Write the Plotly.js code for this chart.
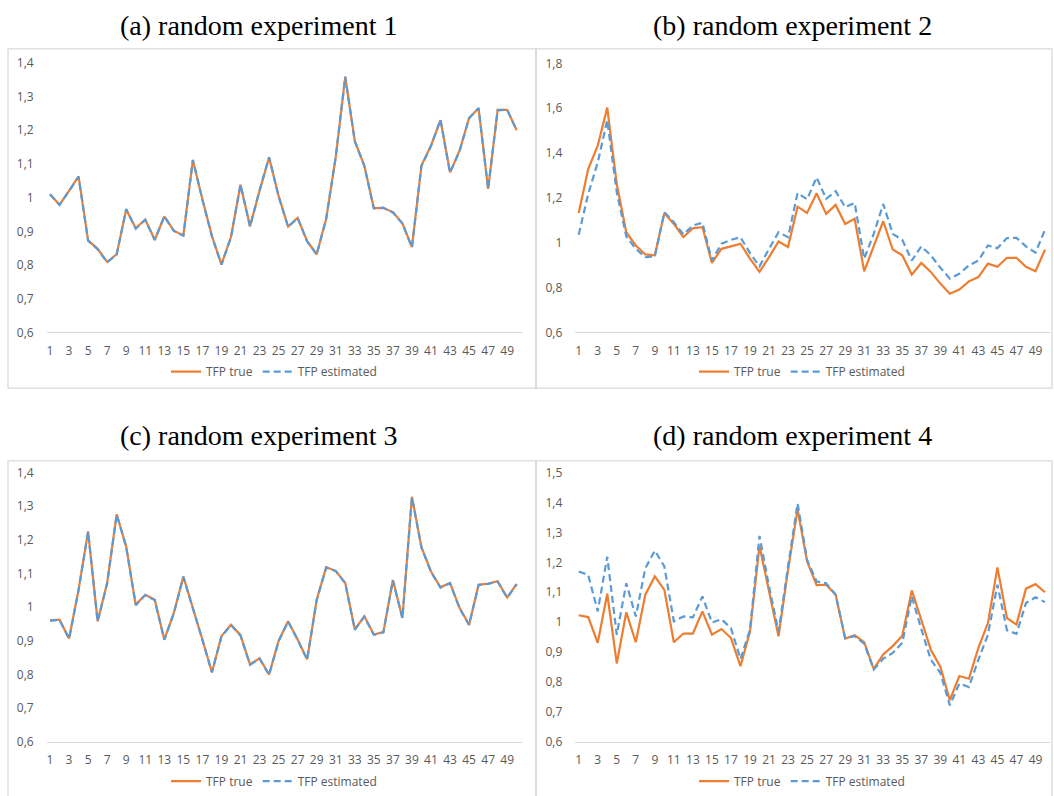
<!DOCTYPE html>
<html>
<head>
<meta charset="utf-8">
<script src="https://cdn.plot.ly/plotly-3.0.1.min.js"></script>
<style>
  html, body { margin: 0; padding: 0; background: #ffffff; }
  #chart { width: 1054px; height: 796px; }
</style>
</head>
<body>
<div id="chart"></div>
<script>
// ---------------- DATA ----------------
const periods = Array.from({length: 50}, (_, i) => i + 1);
const xTickVals = [1,3,5,7,9,11,13,15,17,19,21,23,25,27,29,31,33,35,37,39,41,43,45,47,49];
const seriesNames = ["TFP true", "TFP estimated"];
const panelTitles = ["(a) random experiment 1", "(b) random experiment 2", "(c) random experiment 3", "(d) random experiment 4"];

const expA_true = [1.01,0.979,1.02,1.063,0.873,0.848,0.809,0.832,0.965,0.909,
                   0.935,0.875,0.944,0.902,0.888,1.111,0.995,0.886,0.802,0.883,
                   1.038,0.915,1.02,1.119,1.005,0.914,0.94,0.871,0.832,0.937,
                   1.12,1.358,1.168,1.095,0.969,0.969,0.957,0.924,0.853,1.095,
                   1.154,1.23,1.075,1.139,1.236,1.265,1.026,1.26,1.26,1.2];
const expA_est  = [1.01,0.978,1.02,1.062,0.872,0.847,0.808,0.831,0.966,0.908,
                   0.934,0.874,0.945,0.901,0.887,1.112,0.994,0.885,0.801,0.882,
                   1.039,0.914,1.021,1.12,1.004,0.913,0.939,0.87,0.831,0.938,
                   1.121,1.359,1.167,1.094,0.968,0.97,0.956,0.923,0.852,1.094,
                   1.153,1.231,1.074,1.138,1.235,1.266,1.025,1.259,1.261,1.199];

const expB_true = [1.133,1.329,1.433,1.603,1.262,1.047,0.988,0.948,0.944,1.133,
                   1.084,1.025,1.065,1.07,0.91,0.973,0.984,0.996,0.929,0.87,
                   0.936,1.006,0.981,1.161,1.133,1.221,1.129,1.169,1.084,1.107,
                   0.873,0.984,1.096,0.97,0.944,0.858,0.91,0.87,0.818,0.773,
                   0.791,0.828,0.847,0.907,0.893,0.933,0.933,0.893,0.873,0.969];
const expB_est  = [1.036,1.218,1.358,1.547,1.225,1.028,0.973,0.936,0.939,1.136,
                   1.092,1.037,1.077,1.089,0.921,0.996,1.013,1.025,0.954,0.895,
                   0.973,1.047,1.025,1.222,1.194,1.292,1.196,1.23,1.159,1.178,
                   0.929,1.04,1.173,1.04,1.013,0.921,0.984,0.944,0.889,0.84,
                   0.862,0.899,0.921,0.988,0.976,1.021,1.022,0.984,0.956,1.058];

const expC_true = [0.961,0.963,0.907,1.052,1.225,0.958,1.072,1.276,1.18,1.007,
                   1.037,1.022,0.904,0.983,1.091,1.0,0.904,0.807,0.914,0.948,
                   0.917,0.83,0.848,0.8,0.9,0.958,0.904,0.845,1.022,1.119,
                   1.108,1.072,0.934,0.973,0.919,0.926,1.081,0.968,1.328,1.178,
                   1.106,1.059,1.072,0.998,0.948,1.067,1.07,1.077,1.029,1.069];
const expC_est  = [0.96,0.962,0.906,1.051,1.224,0.957,1.071,1.275,1.179,1.006,
                   1.036,1.021,0.903,0.982,1.09,0.999,0.903,0.806,0.913,0.947,
                   0.916,0.829,0.847,0.799,0.899,0.957,0.903,0.844,1.021,1.118,
                   1.107,1.071,0.933,0.972,0.918,0.925,1.08,0.967,1.327,1.177,
                   1.105,1.058,1.071,0.997,0.947,1.066,1.069,1.076,1.028,1.068];

const expD_true = [1.023,1.017,0.931,1.095,0.862,1.033,0.933,1.092,1.153,1.108,
                   0.933,0.962,0.962,1.036,0.958,0.977,0.947,0.853,0.969,1.255,
                   1.103,0.953,1.175,1.377,1.203,1.124,1.125,1.092,0.945,0.956,
                   0.933,0.844,0.892,0.92,0.955,1.106,1.008,0.908,0.851,0.74,
                   0.82,0.811,0.914,0.997,1.183,1.014,0.992,1.112,1.127,1.1];
const expD_est  = [1.169,1.158,1.036,1.219,0.958,1.13,1.019,1.18,1.239,1.186,
                   1.003,1.019,1.016,1.086,0.999,1.01,0.98,0.877,0.975,1.288,
                   1.119,0.969,1.186,1.397,1.208,1.136,1.13,1.092,0.947,0.953,
                   0.928,0.842,0.878,0.897,0.931,1.086,0.977,0.875,0.831,0.722,
                   0.795,0.783,0.875,0.958,1.125,0.973,0.961,1.064,1.083,1.067];

// ---------------- LAYOUT HELPERS ----------------
const W = 1054, H = 796;
const px = v => v / W;
const py = v => 1 - v / H;

const colTrue = "#ED7D31";
const colEst = "#5B9BD5";
const tickFont = {family: "Open Sans, Liberation Sans, sans-serif", size: 12, color: "#595959"};

const panels = [
  {t: expA_true, e: expA_est, xr: [0.653, 50.525], yr: [0.6, 1.4], dt: 0.1, xd: [46.7, 521.7], yd: [63, 333.7], legY: 373, legX: 274},
  {t: expB_true, e: expB_est, xr: [0.643, 50.525], yr: [0.6, 1.8], dt: 0.2, xd: [575.3, 1050], yd: [63.7, 333.7], legY: 373, legX: 802},
  {t: expC_true, e: expC_est, xr: [0.653, 50.525], yr: [0.6, 1.4], dt: 0.1, xd: [46.7, 521.7], yd: [474.3, 744.7], legY: 784, legX: 274},
  {t: expD_true, e: expD_est, xr: [0.643, 50.525], yr: [0.6, 1.5], dt: 0.1, xd: [575.3, 1050], yd: [474.3, 744.7], legY: 784, legX: 802}
];
const titlePos = [[259, 26], [792, 26], [259, 437], [792, 437]];

const data = [];
const layout = {
  width: W, height: H,
  margin: {l: 0, r: 0, t: 0, b: 0},
  paper_bgcolor: "#ffffff",
  plot_bgcolor: "#ffffff",
  separators: ", ",
  showlegend: true,
  annotations: [],
  shapes: []
};

panels.forEach((p, i) => {
  const n = i === 0 ? "" : String(i + 1);
  const xa = "x" + n, ya = "y" + n;
  const leg = i === 0 ? "legend" : "legend" + (i + 1);
  data.push({
    x: periods, y: p.t, type: "scatter", mode: "lines", name: seriesNames[0],
    xaxis: xa, yaxis: ya, legend: leg,
    line: {color: colTrue, width: 2.2}
  });
  data.push({
    x: periods, y: p.e, type: "scatter", mode: "lines", name: seriesNames[1],
    xaxis: xa, yaxis: ya, legend: leg,
    line: {color: colEst, width: 2.2, dash: "7px,4px"}
  });
  layout["xaxis" + n] = {
    domain: [px(p.xd[0]), px(p.xd[1])],
    range: p.xr, anchor: ya,
    tickmode: "array", tickvals: xTickVals,
    showgrid: false, zeroline: false,
    showline: true, linecolor: "#d9d9d9", linewidth: 1,
    ticks: "", tickfont: tickFont, ticklabelstandoff: 7, fixedrange: true
  };
  layout["yaxis" + n] = {
    domain: [py(p.yd[1]), py(p.yd[0])],
    range: p.yr, anchor: xa,
    dtick: p.dt, tick0: 0.6,
    showgrid: false, zeroline: false, showline: false,
    ticks: "", tickfont: tickFont, ticklabelstandoff: 12, fixedrange: true
  };
  layout[leg] = {
    orientation: "h", x: px(p.legX), y: py(p.legY), xanchor: "center", yanchor: "middle",
    font: tickFont, bgcolor: "rgba(0,0,0,0)", itemwidth: 30, tracegroupgap: 0
  };
  layout.annotations.push({
    text: panelTitles[i], xref: "paper", yref: "paper",
    x: px(titlePos[i][0]), y: py(titlePos[i][1]), xanchor: "center", yanchor: "middle",
    showarrow: false, font: {family: "Liberation Serif, DejaVu Serif, serif", size: 28, color: "#000000"}
  });
});

// chart frames (light grey borders around each Excel chart)
const frames = [[8, 49, 536, 389.5], [536, 49, 1052, 389.5], [8, 462.7, 536, 800], [536, 462.7, 1052, 800]];
frames.forEach(f => {
  layout.shapes.push({
    type: "rect", xref: "paper", yref: "paper",
    x0: px(f[0]), x1: px(f[2]), y0: py(f[3]), y1: py(f[1]),
    line: {color: "#d9d9d9", width: 1.3}, fillcolor: "rgba(0,0,0,0)", layer: "below"
  });
});

Plotly.newPlot("chart", data, layout, {staticPlot: true, displayModeBar: false});
</script>
</body>
</html>
